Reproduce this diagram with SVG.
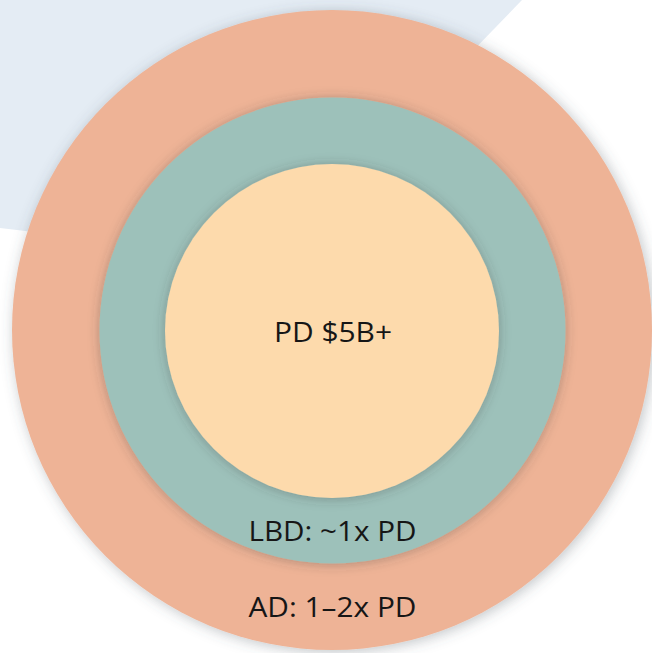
<svg xmlns="http://www.w3.org/2000/svg" width="652" height="653" viewBox="0 0 652 653">
  <defs>
    <filter id="shadow-outer" x="-20%" y="-20%" width="140%" height="140%">
      <feDropShadow dx="2" dy="2" stdDeviation="7" flood-color="#4a5560" flood-opacity="0.35"/>
    </filter>
    <filter id="shadow-inner" x="-20%" y="-20%" width="140%" height="140%">
      <feDropShadow dx="0" dy="1" stdDeviation="6" flood-color="#3a3a3a" flood-opacity="0.35"/>
    </filter>
  </defs>
  <style>
    .label { font-family: "Open Sans", "Liberation Sans", sans-serif; font-size: 26.5px; fill: #161616; text-anchor: middle; }
  </style>

  <rect width="652" height="653" fill="#ffffff"/>
  <!-- pale backdrop panel -->
  <polygon points="0,0 522,0 270,260 0,228" fill="#e4ecf4"/>

  <g id="ad">
    <circle cx="332" cy="330" r="320" fill="#eeb396" filter="url(#shadow-outer)"/>
    <text class="label" x="332.5" y="617" textLength="168" lengthAdjust="spacingAndGlyphs">AD: 1–2x PD</text>
  </g>

  <g id="lbd">
    <circle cx="332.5" cy="330.5" r="233" fill="#9dc1ba" filter="url(#shadow-inner)"/>
    <text class="label" x="332.5" y="541" textLength="168" lengthAdjust="spacingAndGlyphs">LBD: ~1x PD</text>
  </g>

  <g id="pd">
    <circle cx="332" cy="331" r="167" fill="#fddaac" filter="url(#shadow-inner)"/>
    <text class="label" x="333" y="342" textLength="118" lengthAdjust="spacingAndGlyphs">PD $5B+</text>
  </g>
</svg>
